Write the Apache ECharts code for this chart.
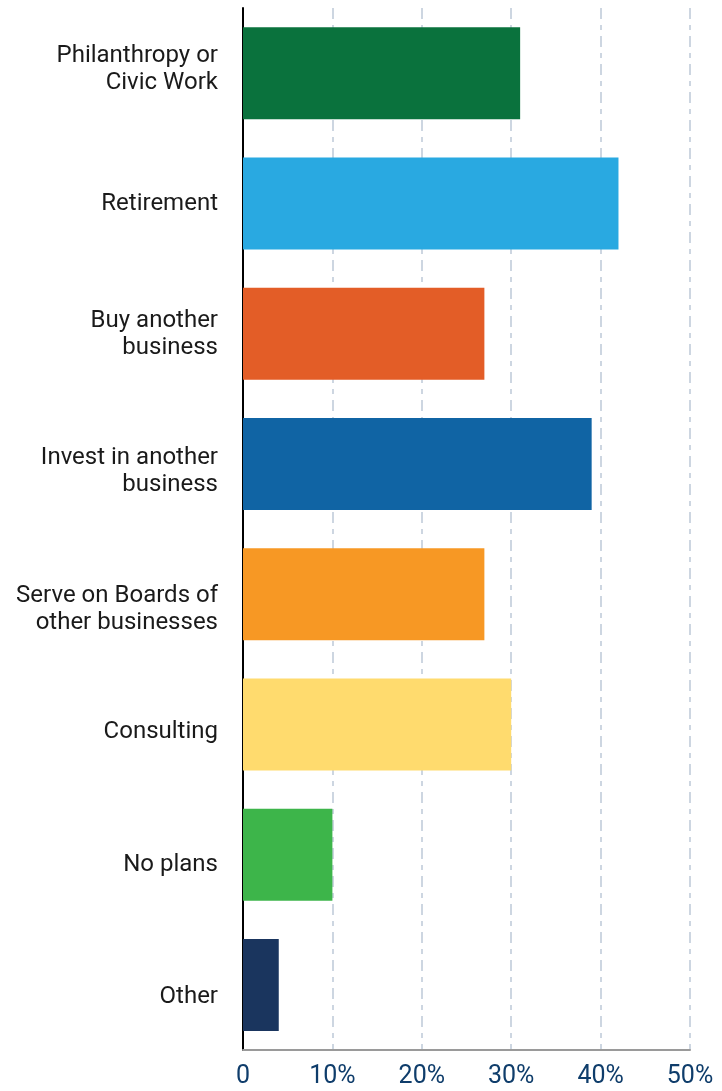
<!DOCTYPE html>
<html>
<head>
<meta charset="utf-8">
<script src="https://cdn.jsdelivr.net/npm/echarts@6/dist/echarts.min.js"></script>
<style>
  html, body { margin: 0; padding: 0; background: #fff; }
  #chart { width: 722px; height: 1091px; }
</style>
</head>
<body>
<div id="chart"></div>
<script>
const categories = [
  'Philanthropy or\nCivic Work',
  'Retirement',
  'Buy another\nbusiness',
  'Invest in another\nbusiness',
  'Serve on Boards of\nother businesses',
  'Consulting',
  'No plans',
  'Other'
];
const values = [31, 42, 27, 39, 27, 30, 10, 4];
const barColors = ['#0a723d', '#29a9e1', '#e35d27', '#1064a4', '#f79824', '#ffdb6e', '#3db54a', '#1a355e'];

// small vertical nudges of the category labels (px, + = down), as in the source
const labelShift = [-4, 1, 1, 8, 15, 8, 10, 12];

const chart = echarts.init(document.getElementById('chart'));

const labelFont = { color: '#1a1a1a', fontFamily: 'Roboto', fontSize: 24, lineHeight: 27 };
const rich = { n: labelFont };
labelShift.forEach((s, i) => {
  // single line: padding on the token
  rich['m' + i] = Object.assign({}, labelFont, {
    padding: s > 0 ? [2 * s, 0, 0, 0] : [0, 0, -2 * s, 0]
  });
  // two lines: an empty spacer line above or below
  rich['p' + i] = { fontSize: 1, lineHeight: Math.max(1, 2 * Math.abs(s)) };
});

const option = {
  animation: false,
  grid: { left: 243, right: 32, top: 8, bottom: 41 },
  xAxis: {
    type: 'value',
    min: 0,
    max: 50,
    interval: 10,
    axisLine: { show: true, onZero: false, lineStyle: { color: '#9a9a9a', width: 2 } },
    axisTick: { show: false },
    axisLabel: {
      color: '#0f3d6b',
      fontFamily: 'Roboto',
      fontSize: 25,
      margin: 14,
      formatter: v => (v === 0 ? '{z|0}' : v + '%'),
      rich: { z: { fontSize: 25, fontFamily: 'Roboto', color: '#0f3d6b', padding: [0, 0, 14, 0] } }
    },
    splitLine: {
      show: true,
      lineStyle: { color: '#cdd6e1', width: 2, type: [11, 6, 5, 6] }
    }
  },
  yAxis: {
    type: 'category',
    inverse: true,
    data: categories,
    axisLine: { show: true, lineStyle: { color: '#000', width: 2 } },
    axisTick: { show: false },
    axisLabel: {
      color: '#1a1a1a',
      fontFamily: 'Roboto',
      fontSize: 24,
      lineHeight: 27,
      margin: 25,
      align: 'right',
      formatter: (v, i) => {
        const lines = v.split('\n');
        if (lines.length === 1) return '{m' + i + '|' + v + '}';
        const body = '{n|' + lines[0] + '}\n{n|' + lines[1] + '}';
        const spacer = '{p' + i + '| }';
        return labelShift[i] > 0 ? spacer + '\n' + body : body + '\n' + spacer;
      },
      rich: rich
    }
  },
  series: [{
    type: 'bar',
    data: values.map((v, i) => ({ value: v, itemStyle: { color: barColors[i] } })),
    barWidth: 92
  }]
};

chart.setOption(option);
</script>
</body>
</html>
